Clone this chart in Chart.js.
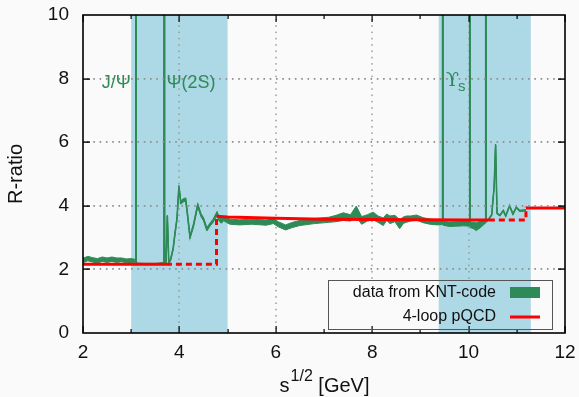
<!DOCTYPE html>
<html>
<head>
<meta charset="utf-8">
<script src="https://cdn.jsdelivr.net/npm/chart.js@4.4.1/dist/chart.umd.min.js"></script>
<style>
html, body { margin: 0; padding: 0; background: #fafafa; }
#wrap { width: 579px; height: 397px; }
</style>
</head>
<body>
<div id="wrap"><canvas id="rChart"></canvas></div>
<script>
// sqrt(s) in GeV, R-ratio central value and half-width of the band
const sqrtS = [2.00, 2.10, 2.20, 2.30, 2.40, 2.50, 2.60, 2.70, 2.80, 2.90, 3.00, 3.07,
	3.090, 3.097, 3.104, 3.12, 3.30, 3.50, 3.66, 3.680, 3.686, 3.692,
	3.72, 3.75, 3.78, 3.82, 3.87, 3.91, 3.95, 3.99, 4.03, 4.08, 4.13, 4.17, 4.22, 4.29,
	4.38, 4.45, 4.50, 4.57, 4.63, 4.70, 4.78, 4.82, 4.87, 4.92, 4.97, 5.05, 5.25, 5.50,
	5.80, 5.95, 6.05, 6.20, 6.35, 6.50, 6.80, 7.10, 7.25, 7.40, 7.55, 7.67, 7.78, 7.90,
	8.02, 8.12, 8.23, 8.30, 8.37, 8.47, 8.57, 8.65, 8.71, 8.80, 8.92, 9.05, 9.20, 9.35,
	9.450, 9.460, 9.470, 9.60, 9.75, 9.90, 10.015, 10.023, 10.031, 10.10, 10.16, 10.25,
	10.345, 10.355, 10.365, 10.41, 10.48, 10.53, 10.56, 10.59, 10.65, 10.72, 10.77, 10.85,
	10.92, 10.99, 11.06, 11.19]
const rData = [2.28, 2.34, 2.30, 2.27, 2.32, 2.29, 2.32, 2.29, 2.30, 2.27, 2.28, 2.27,
	2.25, 40, 2.20, 2.18, 2.17, 2.17, 2.19, 2.20, 40, 2.20,
	2.17, 3.68, 2.20, 2.32, 2.65, 3.15, 3.60, 4.60, 4.10, 4.17, 4.20, 3.70, 3.02, 3.37,
	4.02, 3.70, 3.58, 3.26, 3.40, 3.53, 3.76, 3.60, 3.52, 3.60, 3.56, 3.50, 3.48, 3.50,
	3.47, 3.52, 3.42, 3.32, 3.40, 3.46, 3.52, 3.56, 3.60, 3.66, 3.62, 3.82, 3.54, 3.62,
	3.68, 3.58, 3.50, 3.64, 3.56, 3.60, 3.42, 3.55, 3.58, 3.60, 3.63, 3.55, 3.50, 3.48,
	3.47, 40, 3.45, 3.42, 3.43, 3.45, 3.44, 40, 3.40, 3.38, 3.34, 3.42,
	3.50, 40, 3.52, 3.56, 3.72, 4.60, 5.92, 3.76, 3.70, 3.85, 3.68, 4.00,
	3.74, 3.95, 3.84, 3.86]
const rErr = [0.07, 0.07, 0.07, 0.07, 0.07, 0.07, 0.07, 0.07, 0.06, 0.06, 0.06, 0.05,
	0.02, 0, 0.02, 0.02, 0.02, 0.02, 0.02, 0.02, 0, 0.02,
	0.02, 0.03, 0.03, 0.03, 0.04, 0.04, 0.04, 0.05, 0.05, 0.05, 0.05, 0.05, 0.05, 0.05,
	0.05, 0.05, 0.05, 0.05, 0.05, 0.05, 0.06, 0.07, 0.07, 0.07, 0.08, 0.08, 0.08, 0.08,
	0.08, 0.08, 0.08, 0.08, 0.08, 0.08, 0.08, 0.08, 0.10, 0.12, 0.10, 0.17, 0.12, 0.10,
	0.12, 0.10, 0.12, 0.10, 0.12, 0.10, 0.14, 0.10, 0.10, 0.08, 0.08, 0.08, 0.08, 0.08,
	0.06, 0, 0.06, 0.07, 0.07, 0.08, 0.08, 0, 0.08, 0.10, 0.12, 0.10,
	0.05, 0, 0.03, 0.02, 0.02, 0.02, 0.02, 0.02, 0.02, 0.02, 0.02, 0.02,
	0.02, 0.02, 0.02, 0.02]

// 4-loop pQCD: solid pieces (null = gap) and the dashed threshold steps
const pqcdX = [2.00, 3.72, 3.72, 4.77, 5.00, 6.00, 7.00, 8.00, 9.00, 10.00, 10.42, 10.42, 11.19, 12.00]
const pqcdR = [2.16, 2.16, null, 3.67, 3.65, 3.61, 3.58, 3.57, 3.56, 3.55, 3.55, null, 3.93, 3.93]
const pqcdDashX = [3.72, 4.77, 4.77, 4.77, 10.42, 11.19, 11.19]
const pqcdDashR = [2.16, 2.16, 3.67, null, 3.55, 3.55, 3.97]

// shaded resonance regions and labels
const resonanceBands = [[3.0, 5.0], [9.38, 11.29]]
const resonanceNames = ['J/Ψ', 'Ψ(2S)', 'ϒ']

const xTicks = [2, 4, 6, 8, 10, 12]
const xMinorTicks = [3, 5, 7, 9, 11]
const yTicks = [0, 2, 4, 6, 8, 10]
const yGrid = [2, 4, 6, 8]

const green = '#2e8b57'
const font = '"Liberation Sans", Arial, sans-serif'

const pts = (xs, ys) => xs.map((x, i) => ({ x: x, y: ys[i] }))
const upper = rData.map((r, i) => r + rErr[i])
const lower = rData.map((r, i) => r - rErr[i])

const legendBox = { l: 328, t: 280, r: 552, b: 329 }

function plotBox(chart) {
	const { x, y } = chart.scales
	return {
		left: x.getPixelForValue(2), right: x.getPixelForValue(12),
		top: y.getPixelForValue(10), bottom: y.getPixelForValue(0)
	}
}

function dotRow(ctx, x0, x1, yy) {
	for (let px = x0 + 4; px < x1 - 2; px += 6.3) ctx.fillRect(px, yy - 1, 1.6, 1.8)
}

const decor = {
	id: 'decor',
	beforeDraw(chart) {
		const { ctx, scales: { x } } = chart
		const a = plotBox(chart)
		ctx.save()
		ctx.fillStyle = '#add8e6'
		resonanceBands.forEach(([lo, hi]) => {
			const l = x.getPixelForValue(lo), r = x.getPixelForValue(hi)
			ctx.fillRect(l, a.top, r - l, a.bottom - a.top)
		})
		ctx.restore()
	},
	beforeDatasetsDraw(chart) {
		const { ctx, scales: { x } } = chart
		const a = plotBox(chart)
		ctx.save()
		// vertical dotted grid, stopping at the key box
		ctx.fillStyle = '#9a9a9a'
		xTicks.slice(1, -1).forEach(v => {
			const px = Math.round(x.getPixelForValue(v))
			const end = (px > legendBox.l && px < legendBox.r) ? legendBox.t : a.bottom
			for (let py = a.top + 4; py < end - 2; py += 6.3) ctx.fillRect(px - 0.75, py, 1.5, 1.5)
		})
		ctx.restore()
	},
	afterDatasetsDraw(chart) {
		const { ctx, scales: { x, y } } = chart
		const a = plotBox(chart)
		ctx.save()
		// horizontal dotted grid
		ctx.fillStyle = '#8f8f8f'
		yGrid.forEach(v => dotRow(ctx, a.left, a.right, Math.round(y.getPixelForValue(v))))

		// frame and inward ticks
		ctx.strokeStyle = '#000'
		ctx.lineWidth = 1.6
		ctx.strokeRect(a.left, a.top, a.right - a.left, a.bottom - a.top)
		ctx.fillStyle = '#000'
		xTicks.forEach(v => {
			const px = Math.round(x.getPixelForValue(v))
			ctx.fillRect(px - 0.5, a.bottom - 7, 1.2, 7)
			ctx.fillRect(px - 0.5, a.top, 1.2, 7)
		})
		xMinorTicks.forEach(v => {
			const px = Math.round(x.getPixelForValue(v))
			ctx.fillRect(px - 0.5, a.bottom - 4, 1.2, 4)
			ctx.fillRect(px - 0.5, a.top, 1.2, 4)
		})
		yGrid.forEach(v => {
			const py = Math.round(y.getPixelForValue(v))
			ctx.fillRect(a.left, py - 0.6, 7, 1.4)
			ctx.fillRect(a.right - 7, py - 0.6, 7, 1.4)
		})

		// resonance labels
		ctx.fillStyle = green
		ctx.textBaseline = 'alphabetic'
		ctx.font = '18px ' + font
		ctx.textAlign = 'left'
		const yl = y.getPixelForValue(8) + 9
		ctx.fillText(resonanceNames[0], x.getPixelForValue(2.39), yl)
		ctx.fillText(resonanceNames[1], x.getPixelForValue(3.73), yl)
		ctx.font = '19px "DejaVu Serif", serif'
		ctx.fillText(resonanceNames[2], x.getPixelForValue(9.53), yl - 2)
		ctx.font = '15px ' + font
		ctx.fillText('s', x.getPixelForValue(9.78), yl + 3)

		// key
		ctx.strokeStyle = '#555'
		ctx.lineWidth = 1
		ctx.strokeRect(legendBox.l + 0.5, legendBox.t + 0.5, legendBox.r - legendBox.l, legendBox.b - legendBox.t)
		ctx.fillStyle = '#111'
		ctx.font = '16px ' + font
		ctx.textAlign = 'right'
		ctx.textBaseline = 'middle'
		ctx.fillText('data from KNT-code', 496, 293)
		ctx.fillText('4-loop pQCD', 496, 317)
		ctx.fillStyle = green
		ctx.fillRect(510, 287, 30, 11)
		ctx.fillStyle = '#ff0000'
		ctx.fillRect(510, 315.5, 30, 3)

		// axis titles
		ctx.fillStyle = '#111'
		ctx.textBaseline = 'alphabetic'
		ctx.textAlign = 'left'
		ctx.font = '20px ' + font
		const w1 = ctx.measureText('s').width
		ctx.font = '16px ' + font
		const w2 = ctx.measureText('1/2').width
		ctx.font = '20px ' + font
		const w3 = ctx.measureText(' [GeV]').width
		let tx = (a.left + a.right) / 2 - (w1 + w2 + w3) / 2
		ctx.fillText('s', tx, 392)
		ctx.font = '16px ' + font
		ctx.fillText('1/2', tx + w1 + 1, 381)
		ctx.font = '20px ' + font
		ctx.fillText(' [GeV]', tx + w1 + w2 + 1, 392)

		ctx.translate(22, (a.top + a.bottom) / 2)
		ctx.rotate(-Math.PI / 2)
		ctx.textAlign = 'center'
		ctx.fillText('R-ratio', 0, 0)
		ctx.restore()
	}
}

const noPad = s => { s.paddingTop = 0; s.paddingBottom = 0; s.paddingLeft = 0; s.paddingRight = 0 }

const chart = new Chart(document.getElementById('rChart'), {
	type: 'line',
	data: {
		datasets: [
			{ label: '4-loop pQCD', data: pts(pqcdX, pqcdR), borderColor: '#ff0000', borderWidth: 3, pointRadius: 0, spanGaps: false },
			{ label: 'pQCD thresholds', data: pts(pqcdDashX, pqcdDashR), borderColor: '#ff0000', borderWidth: 3, borderDash: [6, 4], pointRadius: 0, spanGaps: false },
			{ label: 'data from KNT-code', data: pts(sqrtS, rData), borderColor: green, borderWidth: 1.6, pointRadius: 0 },
			{ label: 'upper', data: pts(sqrtS, upper), borderColor: green, borderWidth: 1, pointRadius: 0, fill: '+1', backgroundColor: green },
			{ label: 'lower', data: pts(sqrtS, lower), borderColor: green, borderWidth: 1, pointRadius: 0 }
		]
	},
	options: {
		responsive: true,
		maintainAspectRatio: false,
		animation: false,
		events: [],
		layout: { padding: { top: 15, right: 14, left: 0, bottom: 0 } },
		plugins: { legend: { display: false }, tooltip: { enabled: false } },
		elements: { line: { tension: 0 } },
		scales: {
			x: {
				type: 'linear', min: 2, max: 12,
				afterFit: s => { s.height = 64; noPad(s) },
				afterBuildTicks: s => { s.ticks = xTicks.map(v => ({ value: v })) },
				grid: { display: false, drawTicks: false },
				border: { display: false },
				ticks: { color: '#111', font: { family: font, size: 19 }, padding: 8, maxRotation: 0 }
			},
			y: {
				type: 'linear', min: 0, max: 10,
				afterFit: s => { s.width = 83; noPad(s) },
				afterBuildTicks: s => { s.ticks = yTicks.map(v => ({ value: v })) },
				grid: { display: false, drawTicks: false },
				border: { display: false },
				ticks: { color: '#111', font: { family: font, size: 19 }, padding: 14 }
			}
		}
	},
	plugins: [decor]
})

window.addEventListener('resize', () => {
	chart.resize()
})
</script>
</body>
</html>
